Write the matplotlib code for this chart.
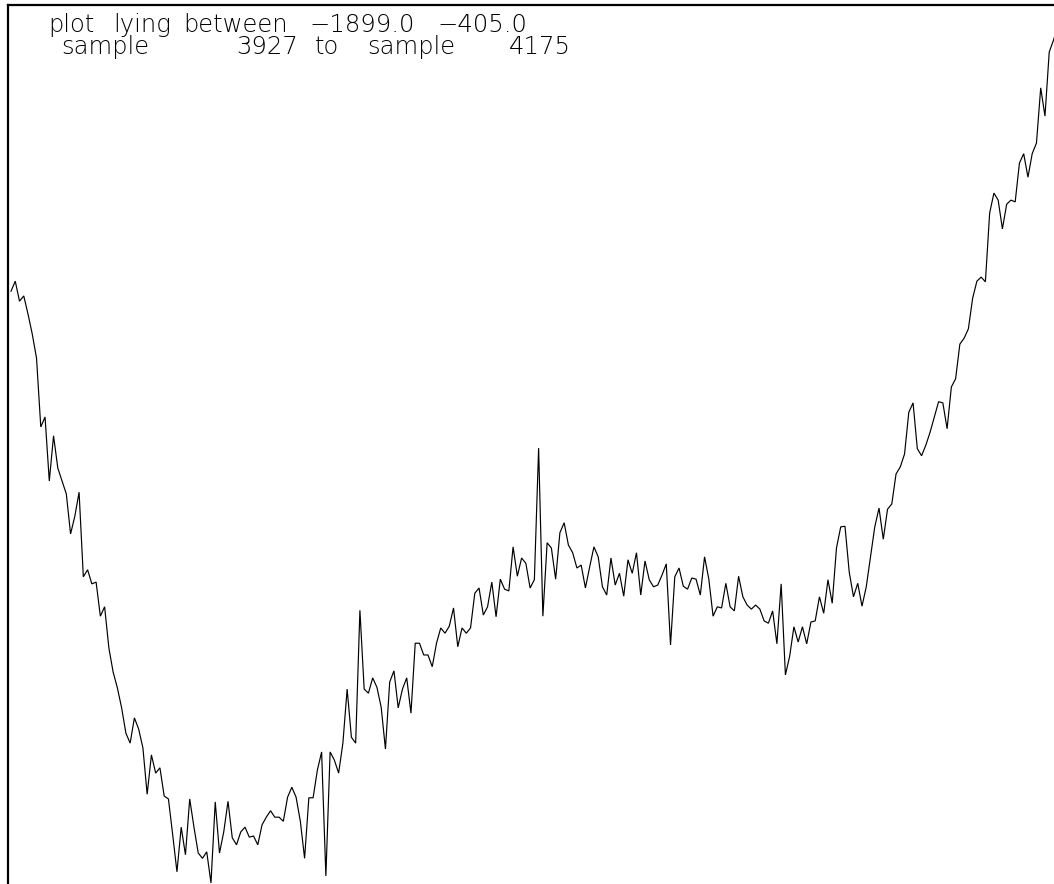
import numpy as np
import matplotlib
matplotlib.use("Agg")
import matplotlib.pyplot as plt

# Trace of samples 3927..4175
first_sample = 3927
last_sample = 4175
values = [
    -892, -875, -909, -900, -931, -965, -1006, -1123, -1106, -1215,
    -1138, -1193, -1215, -1237, -1305, -1275, -1234, -1378, -1366, -1390,
    -1387, -1445, -1429, -1499, -1540, -1567, -1601, -1644, -1661, -1618,
    -1637, -1669, -1748, -1681, -1712, -1703, -1751, -1756, -1817, -1880,
    -1804, -1851, -1756, -1804, -1848, -1857, -1846, -1899, -1761, -1848,
    -1812, -1760, -1822, -1834, -1812, -1804, -1821, -1819, -1834, -1800,
    -1787, -1776, -1787, -1787, -1794, -1753, -1736, -1753, -1794, -1857,
    -1754, -1754, -1707, -1676, -1887, -1676, -1690, -1712, -1661, -1569,
    -1651, -1661, -1435, -1569, -1576, -1550, -1566, -1600, -1671, -1557,
    -1538, -1601, -1569, -1550, -1610, -1491, -1491, -1511, -1511, -1531,
    -1491, -1465, -1474, -1462, -1431, -1497, -1465, -1474, -1465, -1406,
    -1397, -1443, -1429, -1387, -1446, -1382, -1399, -1402, -1327, -1377,
    -1346, -1355, -1397, -1383, -1159, -1445, -1320, -1329, -1382, -1303,
    -1286, -1324, -1337, -1363, -1358, -1397, -1361, -1327, -1344, -1395,
    -1409, -1346, -1392, -1372, -1411, -1349, -1372, -1337, -1409, -1351,
    -1383, -1395, -1392, -1375, -1356, -1494, -1378, -1363, -1394, -1399,
    -1380, -1382, -1409, -1344, -1382, -1445, -1429, -1431, -1389, -1429,
    -1436, -1377, -1412, -1426, -1433, -1426, -1433, -1453, -1457, -1436,
    -1492, -1390, -1545, -1513, -1463, -1489, -1463, -1492, -1455, -1453,
    -1412, -1440, -1383, -1423, -1329, -1293, -1292, -1370, -1412, -1389,
    -1428, -1395, -1344, -1293, -1261, -1314, -1263, -1254, -1203, -1191,
    -1169, -1098, -1082, -1160, -1172, -1154, -1132, -1106, -1080, -1082,
    -1126, -1055, -1041, -982, -972, -956, -904, -875, -868, -876,
    -759, -725, -737, -786, -744, -737, -740, -674, -658, -698,
    -658, -640, -546, -594, -485, -465, -441, -405, -422,
]

samples = np.arange(first_sample, last_sample + 1)
vals = np.array(values, dtype=float)

W, H, DPI = 1054, 884, 100
fig = plt.figure(figsize=(W / DPI, H / DPI), dpi=DPI)
fig.patch.set_facecolor("white")

# plot frame in pixels: left edge, top edge; the frame runs past right/bottom
left_px, top_px = 7.5, 5.0
x0_px, dx_px = 11.0, 4.255          # first sample position and spacing
y_per_px = (vals.max() - vals.min()) / 878.0
right_px, bottom_px = 1075.0, 890.0

ax = fig.add_axes([left_px / W, 1 - bottom_px / H,
                   (right_px - left_px) / W, (bottom_px - top_px) / H])
ax.plot(samples, vals, color="black", lw=0.85, solid_joinstyle="miter")

ax.set_xlim(first_sample - (x0_px - left_px) / dx_px,
            first_sample + (right_px - x0_px) / dx_px)
ax.set_ylim(vals.max() - y_per_px * (bottom_px - top_px), vals.max())

ax.set_xticks([])
ax.set_yticks([])
for side in ("left", "top", "right", "bottom"):
    ax.spines[side].set_linewidth(1.6)
    ax.spines[side].set_color("black")

lo, hi = vals.min(), vals.max()


def fmt(v):
    return f"{v:.1f}".replace("-", "\u2212")


# header words laid out on a fixed column grid (centre x in pixels)
header_rows = [
    (32, [("plot", 71), ("lying", 142), ("between", 236),
          (fmt(lo), 362), (fmt(hi), 482)]),
    (54, [("sample", 105), (str(first_sample), 267), ("to", 327),
          ("sample", 411), (str(last_sample), 540)]),
]
for base_px, words in header_rows:
    for word, cx in words:
        fig.text(cx / W, 1 - base_px / H, word, fontsize=17.5, color="black",
                 family="DejaVu Sans", fontweight="light",
                 va="baseline", ha="center")

fig.savefig("out.png", dpi=DPI, facecolor="white")
